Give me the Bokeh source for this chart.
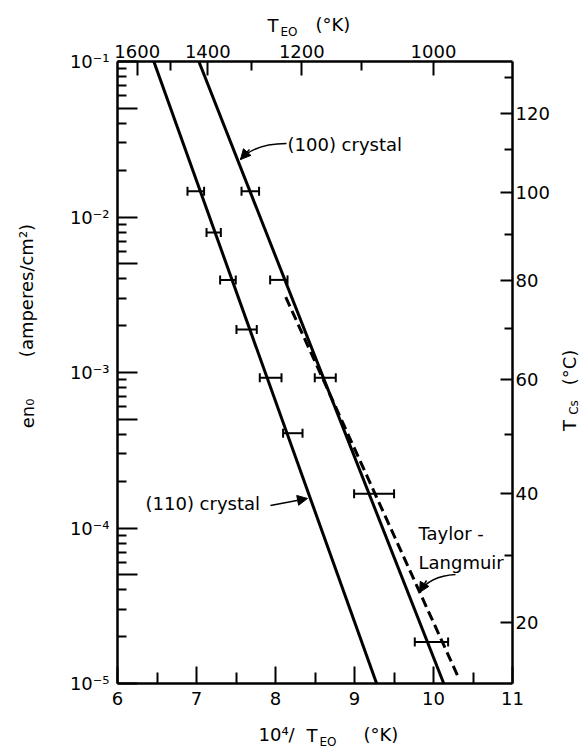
import math

from bokeh.plotting import figure
from bokeh.models import (Range1d, FixedTicker, LinearAxis, LogAxis, Label, Whisker,
                          TeeHead, ColumnDataSource, Arrow, NormalHead)
from bokeh.embed import file_html
from bokeh.resources import INLINE

# ---------------- data ----------------
# bottom axis: 10^4 / T_EO
inv_temp_ticks = [6, 7, 8, 9, 10, 11]
inv_temp_minor = [6.5, 7.5, 8.5, 9.5, 10.5]
# top axis: emitter temperature (K)
emitter_temps_major = [1600, 1400, 1200, 1000]
emitter_temps_minor = [1500, 1300, 1100]

# left axis: current density decades
current_decades = [1e-5, 1e-4, 1e-3, 1e-2, 1e-1]
decade_labels = ["10⁻⁵", "10⁻⁴", "10⁻³", "10⁻²", "10⁻¹"]
current_fives = [5e-5, 5e-4, 5e-3, 5e-2]
current_minor = [m * d for d in [1e-5, 1e-4, 1e-3, 1e-2] for m in (2, 3, 4, 6, 7, 8, 9)]

# right axis: cesium reservoir temperature and its arrival current
cs_temps_major = [20, 40, 60, 80, 100, 120]
cs_current_major = [2.45e-5, 1.66e-4, 9.02e-4, 3.89e-3, 1.436e-2, 4.65e-2]
cs_temps_minor = [30, 50, 70, 90, 110, 130]
cs_current_minor = [6.64e-5, 3.98e-4, 1.905e-3, 7.73e-3, 2.72e-2, 7.85e-2]

# (110) crystal measurements (horizontal error bars)
c110_current = [1.466e-2, 7.94e-3, 3.94e-3, 1.89e-3, 9.25e-4, 4.07e-4]
c110_x_lo = [6.886, 7.127, 7.299, 7.506, 7.801, 8.096]
c110_x_hi = [7.096, 7.308, 7.497, 7.763, 8.076, 8.342]

# (100) crystal measurements
c100_current = [1.466e-2, 3.94e-3, 9.25e-4, 1.66e-4, 1.85e-5]
c100_x_lo = [7.570, 7.932, 8.497, 8.995, 9.763]
c100_x_hi = [7.792, 8.152, 8.763, 9.501, 10.185]

# fitted lines
line110_x = [6.46, 9.28]
line110_y = [1e-1, 1e-5]
line100_x = [7.03, 10.13]
line100_y = [1e-1, 1e-5]
taylor_langmuir_x = [8.13, 10.31]
taylor_langmuir_y = [3.05e-3, 1.11e-5]

# ---------------- layout ----------------
FONT = "DejaVu Sans"
FS = "18px"
CW, CH = 585, 750
# pixel placement of the plotting box (x 6..11, y 1e-5..1e-1) inside the canvas
LEFT, TOP, W, H = 117, 61, 395, 622
PX_PER_X = W / 5.0
PX_PER_DEC = H / 4.0
X_MIN, X_MAX = 6, 11
Y_MIN, Y_MAX = 1e-5, 1e-1


def dx(px):
    """canvas x pixel -> data x"""
    return X_MIN + (px - LEFT) / PX_PER_X


def dy(py):
    """canvas y pixel -> data y (log scale)"""
    return 10 ** (math.log10(Y_MAX) - (py - TOP) / PX_PER_DEC)


# the frame fills the canvas; axes are pinned at the box edges so that
# titles and annotations outside the box are drawn as ordinary labels
p = figure(width=CW, height=CH,
           x_range=Range1d(dx(0), dx(CW)), y_range=Range1d(dy(CH), dy(0)),
           y_axis_type="log", output_backend="svg", toolbar_location=None,
           min_border=0, min_border_left=0, min_border_right=0,
           min_border_top=0, min_border_bottom=0)
p.grid.visible = False
p.outline_line_color = None
p.background_fill_color = "white"
p.border_fill_color = "white"


def style_axis(ax, tick_in, minor_in, standoff):
    ax.axis_line_width = 2.5
    ax.axis_line_color = "black"
    ax.major_tick_in = tick_in
    ax.major_tick_out = 0
    ax.minor_tick_in = minor_in
    ax.minor_tick_out = 0
    ax.major_tick_line_width = 2
    ax.minor_tick_line_width = 2
    ax.major_tick_line_color = "black"
    ax.minor_tick_line_color = "black"
    ax.major_label_text_font = FONT
    ax.major_label_text_font_size = FS
    ax.major_label_text_color = "black"
    ax.major_label_standoff = standoff


# bottom axis
xa = p.xaxis[0]
xa.ticker = FixedTicker(ticks=inv_temp_ticks, minor_ticks=inv_temp_minor)
xa.fixed_location = Y_MIN
xa.bounds = (X_MIN, X_MAX)
style_axis(xa, 17, 11, 8)

# left axis
ya = p.yaxis[0]
ya.ticker = FixedTicker(ticks=current_decades + current_fives, minor_ticks=current_minor)
overrides = {v: lab for v, lab in zip(current_decades, decade_labels)}
overrides.update({v: "" for v in current_fives})
ya.major_label_overrides = overrides
ya.fixed_location = X_MIN
ya.bounds = (Y_MIN, Y_MAX)
style_axis(ya, 20, 9, 8)

# top axis: emitter temperature
top_ticks = [1e4 / t for t in emitter_temps_major]
top_minor = [1e4 / t for t in emitter_temps_minor]
top = LinearAxis(ticker=FixedTicker(ticks=top_ticks, minor_ticks=top_minor),
                 major_label_overrides={v: str(t) for v, t in zip(top_ticks, emitter_temps_major)},
                 fixed_location=Y_MAX, bounds=(X_MIN, X_MAX))
style_axis(top, 14, 9, 4)
p.add_layout(top, "above")

# right axis: cesium reservoir temperature
right = LogAxis(ticker=FixedTicker(ticks=cs_current_major, minor_ticks=cs_current_minor),
                major_label_overrides={v: str(t) for v, t in zip(cs_current_major, cs_temps_major)},
                fixed_location=X_MAX, bounds=(Y_MIN, Y_MAX))
style_axis(right, 12, 8, 3)
p.add_layout(right, "right")

# fitted lines
p.line(line110_x, line110_y, line_color="black", line_width=3)
p.line(line100_x, line100_y, line_color="black", line_width=3)
p.line(taylor_langmuir_x, taylor_langmuir_y, line_color="black", line_width=3, line_dash="10 5")

# error bars
for ys, lo, hi in [(c110_current, c110_x_lo, c110_x_hi), (c100_current, c100_x_lo, c100_x_hi)]:
    src = ColumnDataSource(dict(y=ys, lo=lo, hi=hi))
    p.add_layout(Whisker(source=src, base="y", lower="lo", upper="hi", dimension="width",
                         line_color="black", line_width=2,
                         lower_head=TeeHead(size=9, line_width=2, line_color="black"),
                         upper_head=TeeHead(size=9, line_width=2, line_color="black")))


def text(px, py, s, size=FS, align="left", angle=0.0):
    p.add_layout(Label(x=dx(px), y=dy(py), text=s, text_font=FONT, text_font_size=size,
                       text_color="black", text_align=align, text_baseline="middle",
                       angle=angle))


# curve annotations
text(287, 144, "(100) crystal")
text(145, 503, "(110) crystal")
text(418, 533, "Taylor -")
text(418, 562, "Langmuir")

# curved leader lines with arrowheads
leaders = [
    ((286, 143), (263, 143), (249, 149), (240, 159)),
    ((455, 574), (438, 575), (426, 580), (419, 592)),
]
for (x0, y0), (cx0, cy0), (cx1, cy1), (x1, y1) in leaders:
    p.bezier(x0=[dx(x0)], y0=[dy(y0)], x1=[dx(x1)], y1=[dy(y1)],
             cx0=[dx(cx0)], cy0=[dy(cy0)], cx1=[dx(cx1)], cy1=[dy(cy1)],
             line_color="black", line_width=1.5)
    p.add_layout(Arrow(end=NormalHead(size=10, fill_color="black", line_color="black"),
                       x_start=dx(cx1), y_start=dy(cy1), x_end=dx(x1), y_end=dy(y1),
                       line_width=1.5, line_color="black"))

p.add_layout(Arrow(end=NormalHead(size=10, fill_color="black", line_color="black"),
                   x_start=dx(270), y_start=dy(505), x_end=dx(307), y_end=dy(498),
                   line_width=1.5, line_color="black"))

# axis titles
text(267, 25, "T")
text(280, 31, "EO", size="12px")
text(315, 24, "(°K)")

text(258, 734, "10⁴/")
text(306, 735, "T")
text(319, 741, "EO", size="12px")
text(363, 734, "(°K)")

half_pi = math.pi / 2
text(27, 413, "en₀", align="center", angle=half_pi)
text(26, 290, "(amperes/cm²)", align="center", angle=half_pi)

text(569, 425, "T", align="center", angle=half_pi)
text(573, 407, "Cs", size="12px", align="center", angle=half_pi)
text(569, 367, "(°C)", align="center", angle=half_pi)

open("out.html", "w").write(file_html(p, INLINE))
